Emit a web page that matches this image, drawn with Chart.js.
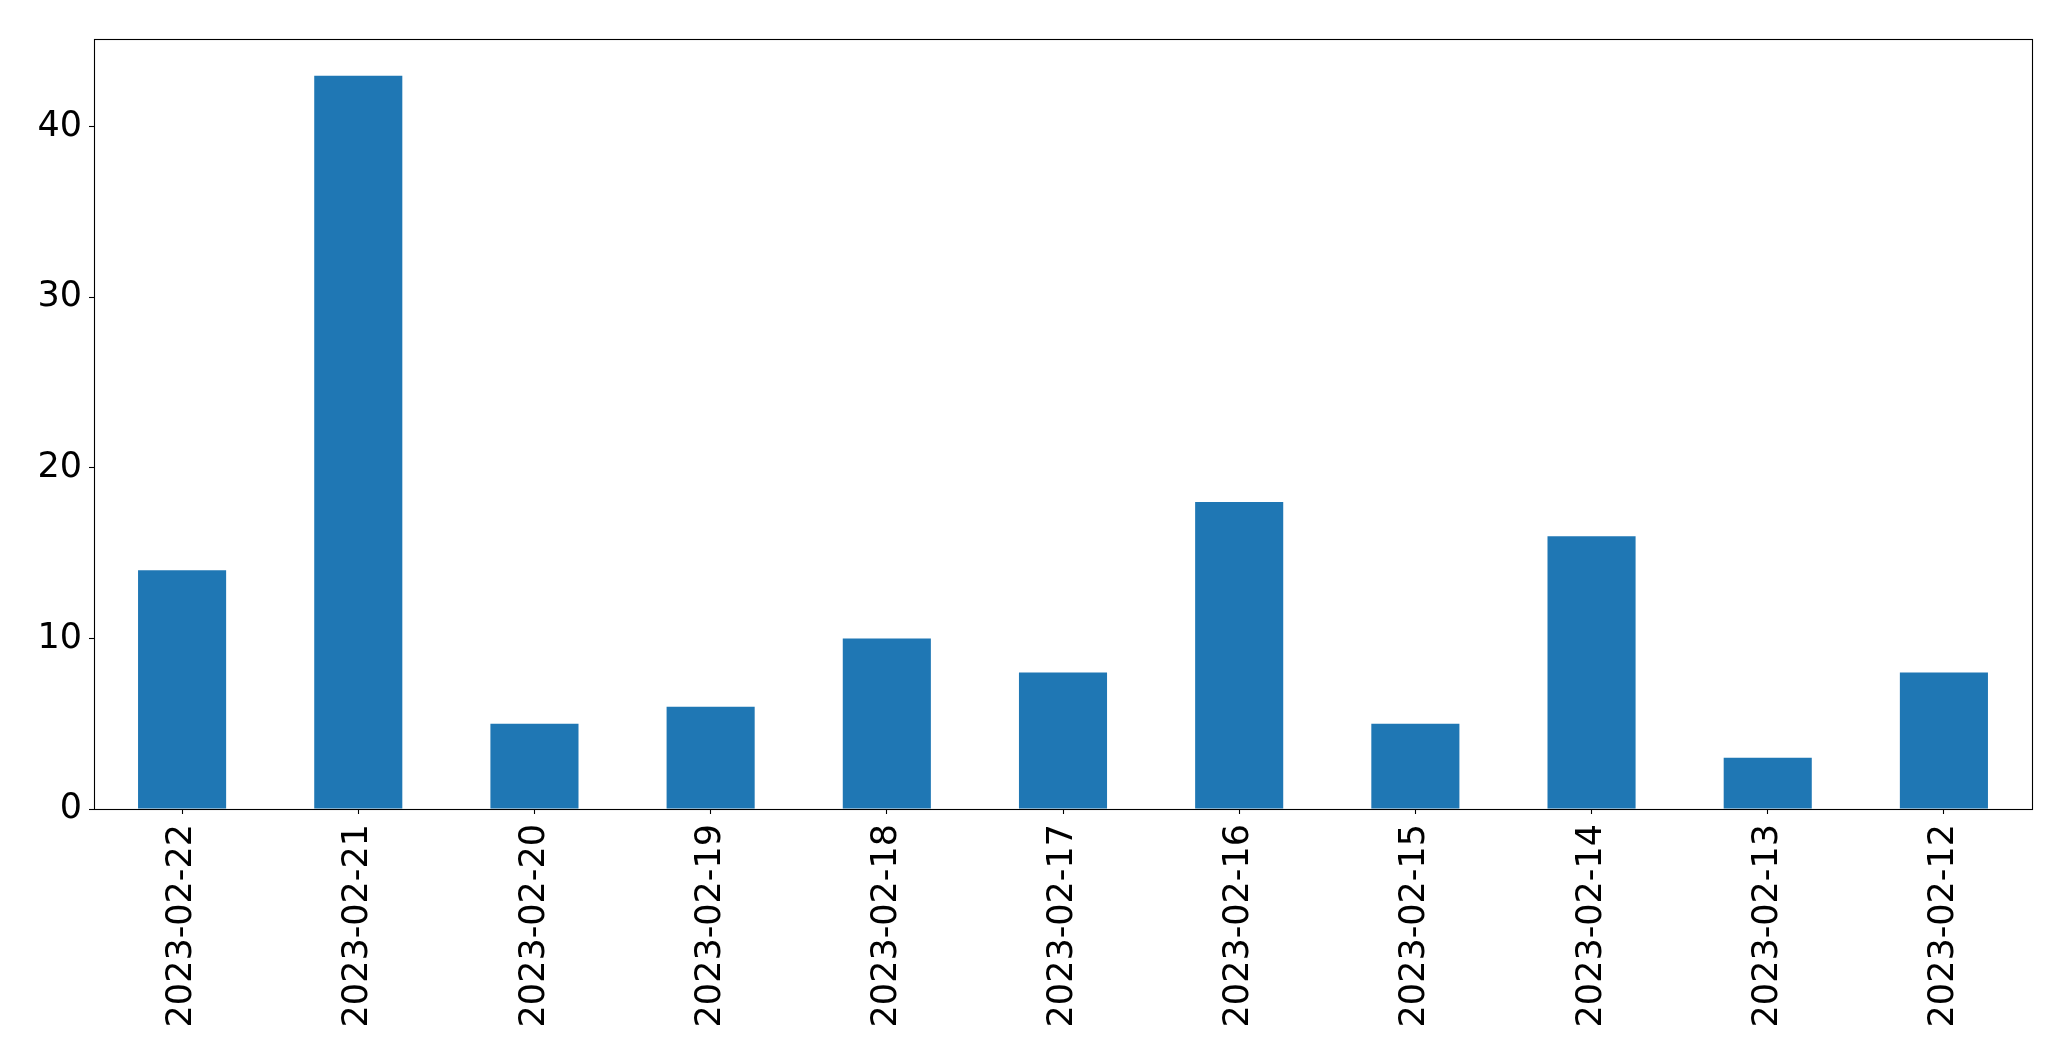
<!DOCTYPE html>
<html>
<head>
<meta charset="utf-8">
<script src="https://cdn.jsdelivr.net/npm/chart.js@4/dist/chart.umd.min.js"></script>
<style>
html, body { margin: 0; padding: 0; background: #ffffff; }
#wrap { width: 2071px; height: 1061px; position: relative; }
</style>
</head>
<body>
<div id="wrap"><canvas id="c" width="2071" height="1061"></canvas></div>
<script>
const categories = ["2023-02-22", "2023-02-21", "2023-02-20", "2023-02-19", "2023-02-18", "2023-02-17", "2023-02-16", "2023-02-15", "2023-02-14", "2023-02-13", "2023-02-12"];
const counts = [14, 43, 5, 6, 10, 8, 18, 5, 16, 3, 8];
const yTicks = [0, 10, 20, 30, 40];
const yMax = 45.15;

const frame = {
  id: 'frame',
  afterDraw(chart) {
    const a = chart.chartArea, ctx = chart.ctx;
    ctx.save();
    ctx.strokeStyle = '#000';
    ctx.lineWidth = 1.1;
    ctx.strokeRect(Math.round(a.left) + 0.5, Math.round(a.top) + 0.5, Math.round(a.right - a.left), Math.round(a.bottom - a.top));
    ctx.restore();
  }
};

new Chart(document.getElementById('c'), {
  type: 'bar',
  data: {
    labels: categories,
    datasets: [{
      data: counts,
      backgroundColor: '#1f77b4',
      borderWidth: 0,
      categoryPercentage: 1.0,
      barPercentage: 0.5
    }]
  },
  options: {
    responsive: false,
    animation: false,
    layout: { padding: { top: 39, right: 39, left: 0, bottom: 0 } },
    plugins: { legend: { display: false }, tooltip: { enabled: false } },
    scales: {
      x: {
        offset: true,
        grid: { display: true, drawOnChartArea: false, offset: false, tickLength: 5, tickColor: '#000', tickWidth: 1.1 },
        border: { display: false },
        ticks: { color: '#000', font: { family: 'DejaVu Sans', size: 35 }, maxRotation: 90, minRotation: 90, padding: 10, autoSkip: false },
        afterFit(axis) { axis.height = 252; }
      },
      y: {
        min: 0,
        max: yMax,
        grid: { display: true, drawOnChartArea: false, tickLength: 5, tickColor: '#000', tickWidth: 1.1 },
        border: { display: false },
        afterBuildTicks(axis) { axis.ticks = yTicks.map(v => ({ value: v })); },
        ticks: { color: '#000', font: { family: 'DejaVu Sans', size: 35 }, padding: 7 },
        afterFit(axis) { axis.width = 94; }
      }
    }
  },
  plugins: [frame]
});
</script>
</body>
</html>
